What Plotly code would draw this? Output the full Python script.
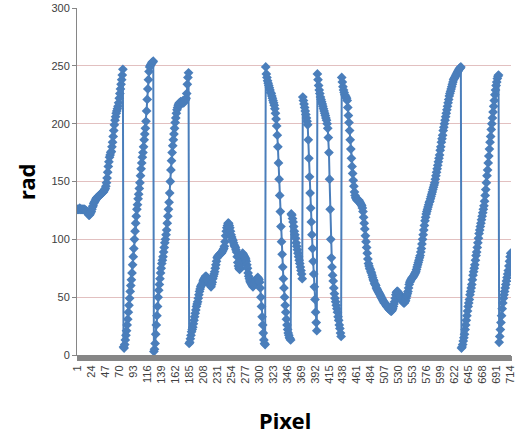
import plotly.graph_objects as go

# rad values, one value per pixel, split into segments
rad_001_076 = [126,126,126,126,127,126,126,126,126,126,
               126,126,126,125,125,124,124,123,122,121,
               121,122,123,124,126,128,129,131,132,133,
               134,135,136,136,137,137,138,138,139,139,
               140,140,141,141,142,143,144,146,149,153,
               158,163,167,171,173,175,176,180,184,189,
               194,199,203,206,209,211,213,215,218,222,
               226,230,234,238,242,247]
rad_077_126 = [7,6,9,13,17,21,26,31,37,43,
               49,55,60,65,71,78,85,92,100,107,
               114,120,126,130,135,139,144,149,155,161,
               166,171,175,180,186,191,196,202,211,221,
               230,238,245,249,250,251,252,253,253,254]
rad_127_184 = [3,5,10,18,26,34,42,50,56,61,
               66,71,75,79,82,85,89,93,97,100,
               104,108,114,120,126,132,140,150,160,168,
               175,181,186,191,196,201,205,209,212,214,
               216,217,218,218,219,217,218,219,220,218,
               219,220,221,222,226,234,240,244]
rad_185_310 = [10,11,14,17,20,22,24,27,30,33,
               36,39,42,44,46,49,52,55,57,59,
               60,61,62,64,65,66,67,68,68,67,
               66,66,64,62,61,60,59,61,63,66,
               68,70,72,75,78,81,84,85,86,86,
               87,87,88,88,89,90,91,92,94,98,
               103,107,110,112,114,114,112,110,107,104,
               102,100,99,97,95,94,93,91,89,85,
               80,77,75,74,75,78,82,86,88,87,
               86,85,84,83,81,78,75,71,68,66,
               64,63,62,61,60,59,60,61,63,64,
               65,66,66,67,66,65,63,58,50,42,
               33,26,19,13,10,9]
rad_311_352 = [249,243,240,237,235,233,231,229,227,226,
               224,222,220,218,216,213,209,204,198,190,
               180,166,152,138,124,111,98,87,76,66,
               58,50,43,37,31,26,22,19,17,15,
               14,13]
rad_353_371 = [122,121,118,115,111,107,104,101,97,94,
               91,88,85,82,79,76,73,70,66]
rad_372_395 = [223,220,217,214,211,208,205,202,199,186,
               170,154,140,127,115,104,92,81,70,59,
               48,37,28,21]
rad_396_435 = [243,238,233,229,226,223,221,219,217,215,
               213,211,209,207,205,203,200,196,188,175,
               152,126,100,84,76,69,64,58,53,49,
               46,43,40,37,33,30,26,23,19,16]
rad_436_632 = [240,236,232,229,227,225,224,223,222,220,
               214,207,201,194,186,178,170,163,157,151,
               146,141,138,136,135,134,134,133,134,133,
               132,131,130,129,127,124,119,114,109,103,
               98,93,88,83,79,77,75,74,72,71,
               69,67,65,64,62,61,60,58,57,56,
               55,54,53,52,51,50,49,48,47,46,
               45,45,44,43,42,42,41,40,40,39,
               39,38,38,39,40,42,44,46,49,52,
               54,55,55,54,53,52,51,50,49,48,
               47,46,45,45,46,47,49,51,53,55,
               58,61,63,64,65,66,67,67,68,69,
               70,71,72,74,76,78,80,82,84,86,
               89,92,96,100,104,108,112,116,119,122,
               124,126,128,130,132,133,135,137,139,141,
               143,145,147,149,152,155,158,161,164,167,
               170,173,177,180,184,187,190,194,197,200,
               203,206,209,212,215,218,221,224,226,228,
               230,232,234,236,238,239,240,241,242,243,
               244,245,246,247,248,248,249]
rad_633_694 = [6,7,9,12,15,18,22,26,30,34,
               38,42,45,48,52,55,58,61,65,69,
               72,75,78,82,86,89,93,97,101,105,
               108,111,114,117,120,123,126,129,133,138,
               143,149,155,160,166,172,178,184,189,195,
               200,205,210,215,220,225,229,233,236,239,
               241,242]
rad_695_714 = [11,16,22,28,34,40,45,49,52,55,
               58,61,64,67,70,73,77,81,85,88]

rad = (rad_001_076 + rad_077_126 + rad_127_184 + rad_185_310 + rad_311_352
       + rad_353_371 + rad_372_395 + rad_396_435 + rad_436_632 + rad_633_694
       + rad_695_714)
pixel = list(range(1, len(rad) + 1))

x_ticks = list(range(1, 715, 23))
y_ticks = [0, 50, 100, 150, 200, 250, 300]

BLUE = "#4a7ebb"
AXIS = "#868686"
GRID = "#e2c0c0"

fig = go.Figure(go.Scatter(
    x=pixel, y=rad, mode="lines+markers",
    line=dict(color=BLUE, width=2),
    marker=dict(symbol="diamond", size=7.5, color=BLUE),
    showlegend=False,
))

fig.update_layout(
    width=521, height=440,
    margin=dict(l=77, r=10, t=8, b=85),
    paper_bgcolor="white", plot_bgcolor="white",
    font=dict(family="Liberation Sans, Arial, sans-serif", size=11, color="#404040"),
    annotations=[
        dict(text="<b>Pixel</b>", xref="paper", yref="paper", x=0.479, y=-0.187,
             xanchor="center", yanchor="middle", showarrow=False,
             font=dict(family="Noto Sans, Open Sans, sans-serif", size=22, color="black")),
        dict(text="<b>rad</b>", xref="paper", yref="paper", x=-0.1175, y=0.4986,
             xanchor="center", yanchor="middle", showarrow=False, textangle=-90,
             font=dict(family="Noto Sans, Open Sans, sans-serif", size=22, color="black")),
    ],
)

fig.update_xaxes(
    range=[0.5, 714.5], tickvals=x_ticks, ticktext=[str(v) for v in x_ticks],
    tickangle=-90, showgrid=False, zeroline=False, automargin=False,
    showline=True, linecolor=AXIS, linewidth=1,
    ticks="outside", ticklen=5, tickcolor=AXIS, tickwidth=1,
    minor=dict(dtick=1, tick0=0.5, ticks="outside", ticklen=5, tickcolor=AXIS, tickwidth=1, showgrid=False),
    tickfont=dict(size=11, color="#404040"),
)
fig.update_yaxes(
    range=[0, 300], tickvals=y_ticks, showgrid=True, gridcolor=GRID, gridwidth=1,
    zeroline=False, showline=True, linecolor=AXIS, linewidth=1, automargin=False,
    ticks="outside", ticklen=4, tickcolor=AXIS,
    tickfont=dict(size=11, color="#404040"),
)

fig.write_html(
    "out.html",
    config={"displayModeBar": False},
    post_script="document.body.style.margin='0';document.body.style.overflow='hidden';",
)
